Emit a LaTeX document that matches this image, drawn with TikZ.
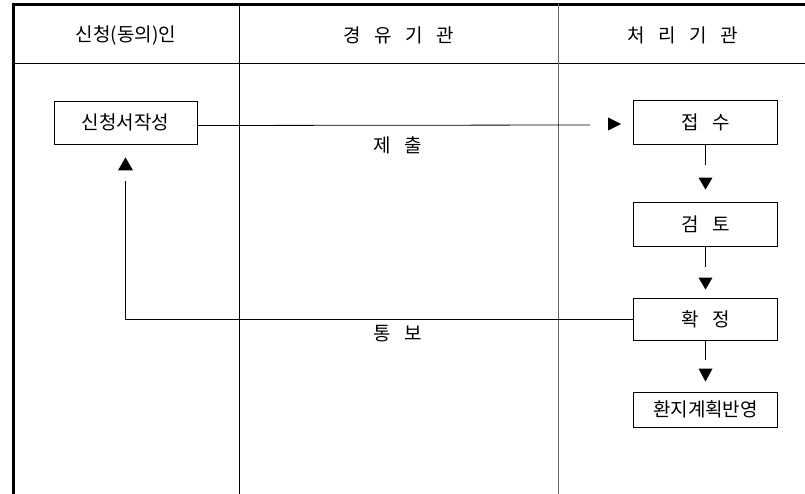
\documentclass[tikz,border=0pt]{standalone}
\usepackage{fontspec}
\setmainfont[WordSpace=3.2]{Noto Sans CJK KR}
\begin{document}
\begin{tikzpicture}[x=1pt,y=-1pt,
  hdr/.style={inner sep=0pt,font=\fontsize{19}{22}\selectfont},
  lbl/.style={inner sep=0pt,font=\fontsize{19}{22}\selectfont},
  box/.style={draw,line width=0.8pt,inner sep=0pt,minimum width=144pt,font=\fontsize{19}{22}\selectfont},
  tri/.style={fill=black},
  conn/.style={line width=0.8pt}]
\useasboundingbox (0,0) rectangle (805,494);
% table
\draw[line width=3pt] (13,494) -- (13,4.5) -- (805,4.5);
\draw[line width=0.8pt] (13,63) -- (805,63);
\draw[line width=0.8pt] (239,4.5) -- (239,494);
\draw[line width=0.8pt,black!60] (558,4.5) -- (558,494);
% headers
\node[hdr] (h1) at (126,35) {신청(동의)인};
\node[hdr] (h2) at (399,35) {경 유 기 관};
\node[hdr] (h3) at (683,35) {처 리 기 관};
% boxes
\node[box,minimum width=143pt,minimum height=43pt] (sin) at (125.5,122.5) {신청서작성};
\node[box,minimum height=44pt] (jeop) at (705.5,122) {접 수};
\node[box,minimum height=44pt] (geom) at (705.5,224) {검 토};
\node[box,minimum height=42pt] (hwak) at (705.5,319) {확 정};
\node[box,minimum height=35pt] (ban) at (705.5,409.5) {환지계획반영};
% labels
\node[lbl] (je) at (398,145) {제 출};
\node[lbl] (tong) at (398,334) {통 보};
% submit
\draw[conn] ([yshift=-3pt]sin.east) -- ([xshift=-43pt,yshift=-3pt]jeop.west);
\fill[tri] ([xshift=-12pt,yshift=-2pt]jeop.west) -- ++(-13,-6.5) -- ++(0,13) -- cycle;
% down arrows
\draw[conn] (jeop.south) -- ++(0,21);
\fill[tri] ([yshift=12pt]geom.north) -- ++(-7,-12) -- ++(14,0) -- cycle;
\draw[conn] (geom.south) -- ++(0,21);
\fill[tri] ([yshift=8pt]hwak.north) -- ++(-7,-12) -- ++(14,0) -- cycle;
\draw[conn] (hwak.south) -- ++(0,20);
\fill[tri] ([yshift=10pt]ban.north) -- ++(-7,-13) -- ++(14,0) -- cycle;
% notify
\draw[conn] (hwak.west) -| ([yshift=-37pt]sin.south);
\fill[tri] ([yshift=-13pt]sin.south) -- ++(-7.5,13) -- ++(15,0) -- cycle;
\end{tikzpicture}
\end{document}
